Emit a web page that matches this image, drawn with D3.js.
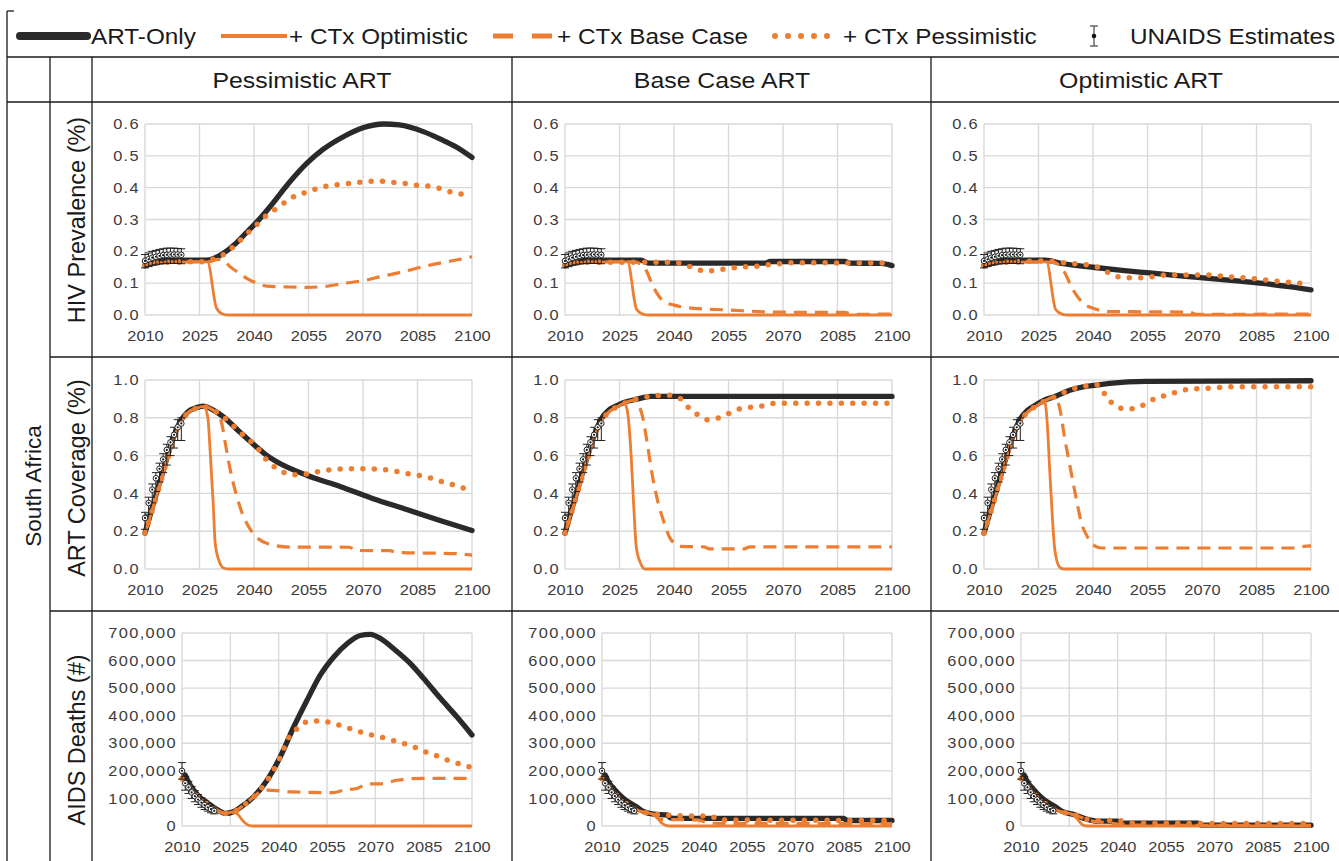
<!DOCTYPE html>
<html><head><meta charset="utf-8">
<script src="https://cdn.jsdelivr.net/npm/d3@7"></script>
<style>body{margin:0;background:#fff}svg{display:block}</style>
</head><body><svg id="chart" width="1339" height="861"></svg>
<script>
// ---------- labels & ticks ----------
const legendLabels = ["ART-Only", "+ CTx Optimistic", "+ CTx Base Case", "+ CTx Pessimistic", "UNAIDS Estimates"];
const columnHeaders = ["Pessimistic ART", "Base Case ART", "Optimistic ART"];
const rowTitles = ["HIV Prevalence (%)", "ART Coverage (%)", "AIDS Deaths (#)"];
const countryLabel = "South Africa";
const xTicks = [2010, 2025, 2040, 2055, 2070, 2085, 2100];
const prevTicks = [0, 0.1, 0.2, 0.3, 0.4, 0.5, 0.6];
const covTicks = [0, 0.2, 0.4, 0.6, 0.8, 1.0];
const deathTicks = [0, 100000, 200000, 300000, 400000, 500000, 600000, 700000];

// ---------- UNAIDS estimates ----------
const unaidsYears = [2010, 2011, 2012, 2013, 2014, 2015, 2016, 2017, 2018, 2019, 2020];
const unaidsPrev = [0.170, 0.175, 0.180, 0.183, 0.186, 0.188, 0.189, 0.190, 0.190, 0.190, 0.189];
const unaidsPrevLow = [0.148, 0.152, 0.156, 0.158, 0.160, 0.161, 0.162, 0.162, 0.162, 0.162, 0.161];
const unaidsPrevHigh = [0.190, 0.195, 0.200, 0.203, 0.206, 0.208, 0.210, 0.210, 0.210, 0.209, 0.208];
const unaidsCov = [0.27, 0.35, 0.42, 0.48, 0.53, 0.58, 0.63, 0.67, 0.71, 0.75, 0.77];
const unaidsCovLow = [0.21, 0.29, 0.35, 0.41, 0.46, 0.51, 0.55, 0.60, 0.64, 0.68, 0.68];
const unaidsCovHigh = [0.30, 0.38, 0.45, 0.51, 0.56, 0.61, 0.66, 0.70, 0.75, 0.79, 0.80];
const unaidsDeaths = [200000, 155000, 140000, 122000, 108000, 96000, 85000, 76000, 68000, 61000, 55000];
const unaidsDeathsLow = [170000, 130000, 118000, 100000, 88000, 78000, 68000, 60000, 54000, 48000, 44000];
const unaidsDeathsHigh = [230000, 180000, 162000, 144000, 128000, 114000, 102000, 92000, 82000, 74000, 66000];

// ---------- HIV prevalence ----------
const prevCtxEarly = [[2010,0.158],[2013,0.163],[2017,0.166]];
const prevPessArt_artOnly = [[2010,0.155],[2012,0.163],[2014,0.169],[2016,0.172],[2027,0.172],[2029,0.178],[2031.6,0.194],[2035,0.225],[2038,0.26],[2041,0.295],[2044.4,0.34],[2050,0.42],[2054.5,0.476],[2059,0.52],[2064.6,0.56],[2070,0.588],[2075.6,0.6],[2080,0.597],[2086.6,0.576],[2091.2,0.553],[2095.8,0.527],[2100,0.495]];
const prevPessArt_ctxOpt = prevCtxEarly.concat([[2027.2,0.167],[2029.7,0.021],[2031.6,0.002],[2033,0],[2100,0]]);
const prevPessArt_ctxBase = prevCtxEarly.concat([[2028,0.168],[2030,0.175],[2031.6,0.172],[2033.4,0.152],[2036,0.131],[2038,0.115],[2040.7,0.1],[2043.5,0.091],[2050,0.088],[2054.5,0.087],[2059,0.089],[2064.6,0.099],[2070,0.108],[2074.7,0.12],[2080,0.133],[2086.6,0.152],[2092,0.165],[2096.7,0.175],[2100,0.183]]);
const prevPessArt_ctxPess = prevCtxEarly.concat([[2027,0.168],[2029,0.177],[2031.6,0.19],[2035,0.222],[2038,0.255],[2040.7,0.283],[2044,0.318],[2047,0.34],[2049.5,0.363],[2052,0.377],[2055,0.387],[2058,0.4],[2061.4,0.407],[2064.6,0.412],[2068,0.415],[2071,0.42],[2075,0.42],[2078,0.417],[2081,0.414],[2084.5,0.408],[2088,0.405],[2091,0.398],[2094,0.387],[2097,0.38],[2100,0.375]]);

const prevBaseArt_artOnly = [[2010,0.155],[2012,0.163],[2014,0.169],[2016,0.172],[2031,0.172],[2033,0.163],[2065,0.163],[2066.5,0.168],[2087,0.168],[2088.5,0.163],[2097,0.162],[2100,0.155]];
const prevBaseArt_ctxOpt = prevCtxEarly.concat([[2027.2,0.167],[2029.7,0.018],[2031.6,0.002],[2033,0],[2100,0]]);
const prevBaseArt_ctxBase = prevCtxEarly.concat([[2029,0.167],[2031.7,0.152],[2034.5,0.084],[2037.2,0.042],[2040,0.031],[2045.5,0.021],[2054.6,0.016],[2068.4,0.009],[2086.7,0.008],[2090,0.002],[2100,0.003]]);
const prevBaseArt_ctxPess = prevCtxEarly.concat([[2030,0.166],[2040,0.165],[2043,0.158],[2046,0.145],[2049,0.137],[2052,0.143],[2055,0.145],[2058,0.151],[2062,0.152],[2065,0.157],[2068,0.16],[2072,0.164],[2100,0.163]]);

const prevOptArt_artOnly = [[2010,0.155],[2012,0.163],[2014,0.169],[2016,0.172],[2027,0.172],[2031.8,0.161],[2040,0.15],[2048,0.14],[2055.6,0.132],[2064,0.123],[2071,0.116],[2079.5,0.107],[2086.8,0.099],[2094,0.089],[2100,0.079]];
const prevOptArt_ctxOpt = prevCtxEarly.concat([[2027.2,0.167],[2029.7,0.018],[2031.6,0.002],[2033,0],[2100,0]]);
const prevOptArt_ctxBase = prevCtxEarly.concat([[2029,0.166],[2031.8,0.141],[2034.5,0.079],[2037.3,0.037],[2040,0.021],[2044.6,0.011],[2066.6,0.009],[2068.4,0.002],[2100,0.003]]);
const prevOptArt_ctxPess = prevCtxEarly.concat([[2027,0.17],[2031.8,0.164],[2040,0.154],[2042,0.148],[2044.6,0.131],[2047.8,0.118],[2051,0.117],[2054.7,0.118],[2058.4,0.124],[2064.8,0.126],[2071,0.126],[2077.5,0.12],[2085,0.113],[2091.4,0.105],[2097.8,0.099],[2100,0.097]]);

// ---------- ART coverage ----------
const covCtxEarly = [[2010,0.19],[2012,0.31],[2014,0.44],[2016,0.57],[2018,0.69],[2020,0.78],[2022,0.83]];
const covPessArt_artOnly = [[2010,0.19],[2012,0.325],[2014,0.455],[2016,0.585],[2018,0.705],[2020,0.79],[2022,0.835],[2024,0.853],[2026,0.862],[2028.8,0.841],[2031.6,0.805],[2036,0.726],[2040.7,0.646],[2043.4,0.602],[2046,0.57],[2054.5,0.496],[2063.7,0.437],[2072.8,0.372],[2082,0.315],[2091.2,0.257],[2100,0.204]];
const covPessArt_ctxOpt = covCtxEarly.concat([[2024,0.85],[2026.3,0.86],[2027.3,0.8],[2028,0.6],[2028.8,0.336],[2029.3,0.142],[2030.2,0.053],[2031.6,0.005],[2033,0],[2100,0]]);
const covPessArt_ctxBase = covCtxEarly.concat([[2024,0.85],[2026,0.86],[2028.8,0.84],[2030,0.82],[2031,0.779],[2032.2,0.655],[2033.4,0.531],[2035.2,0.389],[2037,0.283],[2038.9,0.212],[2040.7,0.168],[2043.5,0.136],[2049.8,0.116],[2066.3,0.115],[2068.1,0.098],[2077.3,0.097],[2079.2,0.088],[2095.8,0.081],[2100,0.073]]);
const covPessArt_ctxPess = covCtxEarly.concat([[2024,0.85],[2026,0.86],[2028.8,0.84],[2031.6,0.805],[2036,0.726],[2040.7,0.646],[2044,0.566],[2046,0.535],[2049,0.506],[2052.5,0.497],[2055.9,0.51],[2058.8,0.518],[2061.8,0.527],[2065.3,0.53],[2068.7,0.53],[2072,0.53],[2075.6,0.527],[2078.8,0.518],[2082,0.505],[2085.2,0.496],[2088.4,0.483],[2091.2,0.465],[2094.4,0.448],[2097.4,0.43],[2100,0.415]]);

const covBaseArt_artOnly = [[2010,0.19],[2012,0.325],[2014,0.455],[2016,0.585],[2018,0.705],[2020,0.795],[2022,0.84],[2024,0.862],[2026.2,0.881],[2029.9,0.899],[2033.6,0.913],[2100,0.913]];
const covBaseArt_ctxOpt = covCtxEarly.concat([[2024,0.855],[2026.4,0.876],[2027.3,0.82],[2028.2,0.6],[2028.9,0.34],[2029.6,0.12],[2030.7,0.035],[2032,0],[2100,0]]);
const covBaseArt_ctxBase = covCtxEarly.concat([[2024,0.855],[2026.2,0.876],[2029,0.893],[2030.2,0.87],[2031.3,0.81],[2032.6,0.67],[2034,0.5],[2035.4,0.37],[2037.2,0.25],[2039,0.16],[2041.8,0.12],[2048.2,0.117],[2050,0.106],[2059,0.106],[2061,0.117],[2100,0.117]]);
const covBaseArt_ctxPess = covCtxEarly.concat([[2024,0.855],[2026.2,0.876],[2029.9,0.9],[2033.6,0.915],[2038,0.92],[2041.8,0.9],[2044.1,0.852],[2046.7,0.814],[2049.3,0.79],[2052.3,0.8],[2055.4,0.825],[2058.3,0.848],[2061.7,0.857],[2064.9,0.865],[2067.9,0.877],[2100,0.877]]);

const covOptArt_artOnly = [[2010,0.19],[2012,0.325],[2014,0.455],[2016,0.585],[2018,0.705],[2020,0.795],[2022,0.84],[2024,0.865],[2026.2,0.89],[2029.9,0.915],[2033.6,0.946],[2037.3,0.964],[2040.9,0.973],[2044.6,0.982],[2054.7,0.993],[2100,0.996]];
const covOptArt_ctxOpt = covCtxEarly.concat([[2024,0.858],[2026.7,0.885],[2027.3,0.8],[2028.1,0.52],[2028.8,0.28],[2029.5,0.1],[2030.8,0.01],[2032,0],[2100,0]]);
const covOptArt_ctxBase = covCtxEarly.concat([[2024,0.858],[2026.2,0.884],[2029.5,0.91],[2030.8,0.854],[2032.2,0.693],[2033.6,0.55],[2035.4,0.371],[2036.8,0.246],[2038.6,0.166],[2040.9,0.118],[2042.7,0.111],[2095,0.111],[2098.7,0.121],[2100,0.122]]);
const covOptArt_ctxPess = covCtxEarly.concat([[2024,0.858],[2026.2,0.884],[2029.9,0.915],[2033.6,0.948],[2037.3,0.966],[2040.9,0.975],[2042,0.965],[2043.7,0.91],[2046.1,0.866],[2049.2,0.845],[2052.3,0.854],[2055,0.88],[2057.6,0.907],[2060.5,0.92],[2063.4,0.939],[2066.6,0.952],[2069.8,0.955],[2073.5,0.957],[2077,0.964],[2100,0.964]]);

// ---------- AIDS deaths ----------
const deathsCtxEarly = [[2010,172000],[2011,158000],[2012,145000],[2013.6,124000],[2015.5,100000],[2017.8,80000],[2020.9,57000]];
const deathsPessArt_artOnly = [[2011,185000],[2012,160000],[2013.6,130000],[2015.5,105000],[2017.8,85000],[2020.9,60000],[2023.4,46000],[2026,52000],[2029.1,76000],[2032.2,106000],[2036.4,166000],[2040.5,251000],[2044.7,360000],[2048.8,456000],[2052.9,547000],[2057.1,613000],[2061.2,661000],[2065.3,691000],[2068.4,695000],[2071.6,680000],[2075.7,643000],[2080.9,589000],[2085,535000],[2090.2,463000],[2095.3,396000],[2100,330000]];
const deathsPessArt_ctxOpt = deathsCtxEarly.concat([[2023.4,45000],[2025.5,50000],[2027.1,44000],[2029.1,16000],[2031,1000],[2032,0],[2100,0]]);
const deathsPessArt_ctxBase = deathsCtxEarly.concat([[2023.4,45000],[2026,51000],[2029.1,75000],[2032.2,105000],[2034.3,124000],[2036.4,130000],[2043.6,124000],[2057,121000],[2060.2,130000],[2064.3,136000],[2067.4,152000],[2072.6,154000],[2076.7,166000],[2085,173000],[2100,173000]]);
const deathsPessArt_ctxPess = deathsCtxEarly.concat([[2023.4,45000],[2026,51000],[2029.1,75000],[2032.2,105000],[2036.4,165000],[2040.5,250000],[2043,318000],[2046.2,357000],[2049.5,381000],[2052.9,381000],[2056.6,374000],[2060.2,360000],[2063.8,347000],[2066.9,335000],[2070.5,326000],[2074.1,315000],[2077.8,302000],[2081.4,290000],[2084.8,272000],[2088.4,257000],[2092,241000],[2095.7,227000],[2100,212000]]);

const deathsBaseArt_artOnly = [[2011,185000],[2012,160000],[2013.6,136000],[2016.7,100000],[2020.9,68000],[2023,52000],[2026,43000],[2030.2,40000],[2031.2,30000],[2032.2,28000],[2085,28000],[2086,20000],[2100,20000]];
const deathsBaseArt_ctxOpt = deathsCtxEarly.concat([[2023,50000],[2026,42000],[2027.5,25000],[2028.6,10000],[2030.7,0],[2100,0]]);
const deathsBaseArt_ctxBase = deathsCtxEarly.concat([[2023,50000],[2026,42000],[2028,24000],[2039.5,22000],[2043.6,10000],[2100,9000]]);
const deathsBaseArt_ctxPess = deathsCtxEarly.concat([[2023,50000],[2026,43000],[2030.2,40000],[2033,37000],[2044,36000],[2046,22000],[2100,20000]]);

const deathsOptArt_artOnly = [[2011,185000],[2012,160000],[2013.6,136000],[2016.7,100000],[2020.9,68000],[2023,52000],[2026,43000],[2031.2,22000],[2033.3,18000],[2040,18000],[2041,10000],[2065,10000],[2066,3000],[2100,3000]];
const deathsOptArt_ctxOpt = deathsCtxEarly.concat([[2023,50000],[2026,42000],[2027.5,25000],[2029,5000],[2030.3,0],[2100,0]]);
const deathsOptArt_ctxBase = deathsCtxEarly.concat([[2023,50000],[2026,42000],[2029,30000],[2031,20000],[2035,14000],[2040,7000],[2045,3000],[2100,2000]]);
const deathsOptArt_ctxPess = deathsCtxEarly.concat([[2023,50000],[2026,43000],[2031.2,23000],[2035,19000],[2040,20000],[2043,15000],[2045,10000],[2100,9000]]);

// ---------- assemble ----------
const rowsData = [
  { ticks: prevTicks, fmt: d3.format(".1f"), domain: [0, 0.6],
    est: [unaidsPrev, unaidsPrevLow, unaidsPrevHigh],
    panels: [
      { art: prevPessArt_artOnly, opt: prevPessArt_ctxOpt, base: prevPessArt_ctxBase, pess: prevPessArt_ctxPess },
      { art: prevBaseArt_artOnly, opt: prevBaseArt_ctxOpt, base: prevBaseArt_ctxBase, pess: prevBaseArt_ctxPess },
      { art: prevOptArt_artOnly, opt: prevOptArt_ctxOpt, base: prevOptArt_ctxBase, pess: prevOptArt_ctxPess }] },
  { ticks: covTicks, fmt: d3.format(".1f"), domain: [0, 1],
    est: [unaidsCov, unaidsCovLow, unaidsCovHigh],
    panels: [
      { art: covPessArt_artOnly, opt: covPessArt_ctxOpt, base: covPessArt_ctxBase, pess: covPessArt_ctxPess },
      { art: covBaseArt_artOnly, opt: covBaseArt_ctxOpt, base: covBaseArt_ctxBase, pess: covBaseArt_ctxPess },
      { art: covOptArt_artOnly, opt: covOptArt_ctxOpt, base: covOptArt_ctxBase, pess: covOptArt_ctxPess }] },
  { ticks: deathTicks, fmt: d3.format(","), domain: [0, 700000],
    est: [unaidsDeaths, unaidsDeathsLow, unaidsDeathsHigh],
    panels: [
      { art: deathsPessArt_artOnly, opt: deathsPessArt_ctxOpt, base: deathsPessArt_ctxBase, pess: deathsPessArt_ctxPess },
      { art: deathsBaseArt_artOnly, opt: deathsBaseArt_ctxOpt, base: deathsBaseArt_ctxBase, pess: deathsBaseArt_ctxPess },
      { art: deathsOptArt_artOnly, opt: deathsOptArt_ctxOpt, base: deathsOptArt_ctxBase, pess: deathsOptArt_ctxPess }] }
];

// ---------- drawing ----------
const FONT = '"Liberation Sans", Arial, Helvetica, sans-serif';
const SX = 1.13; // horizontal text stretch
const ORANGE = "#ED7D31", DARK = "#2a2a2a", GRID = "#d9d9d9", LINE = "#1a1a1a", TXT = "#1a1a1a", TICK = "#3c3c3c";
const svg = d3.select("#chart").style("font-family", FONT);
svg.append("rect").attr("width", 1339).attr("height", 861).attr("fill", "#fff");

function hText(x, y, str, size, anchor) {
  return svg.append("text").attr("transform", `translate(${x},${y}) scale(${SX},1)`)
    .attr("text-anchor", anchor).attr("font-size", size).attr("fill", TXT).text(str);
}

// table lines
const tbl = svg.append("g").attr("stroke", LINE).attr("stroke-width", 1.3);
[[7, 11, 14, 11], [7, 57, 1339, 57], [7, 102, 1339, 102], [50, 357, 1339, 357], [50, 611, 1339, 611],
 [7, 11, 7, 861], [50, 57, 50, 861], [92, 57, 92, 861], [512, 57, 512, 861], [931, 57, 931, 861]]
  .forEach(l => tbl.append("line").attr("x1", l[0]).attr("y1", l[1]).attr("x2", l[2]).attr("y2", l[3]));

// legend
const LY = 36;
const lg = svg.append("g");
lg.append("line").attr("x1", 20).attr("x2", 87).attr("y1", LY).attr("y2", LY).attr("stroke", DARK).attr("stroke-width", 8).attr("stroke-linecap", "round");
lg.append("line").attr("x1", 221).attr("x2", 287).attr("y1", LY).attr("y2", LY).attr("stroke", ORANGE).attr("stroke-width", 4);
lg.append("line").attr("x1", 493).attr("x2", 552).attr("y1", LY).attr("y2", LY).attr("stroke", ORANGE).attr("stroke-width", 5).attr("stroke-dasharray", "20,19");
lg.append("line").attr("x1", 775).attr("x2", 840).attr("y1", LY).attr("y2", LY).attr("stroke", ORANGE).attr("stroke-width", 6).attr("stroke-linecap", "round").attr("stroke-dasharray", "0,13");
lg.append("line").attr("x1", 1094).attr("x2", 1094).attr("y1", 26).attr("y2", 46).attr("stroke", "#222").attr("stroke-width", 1);
lg.append("line").attr("x1", 1090).attr("x2", 1098).attr("y1", 26).attr("y2", 26).attr("stroke", "#222").attr("stroke-width", 1);
lg.append("line").attr("x1", 1090).attr("x2", 1098).attr("y1", 46).attr("y2", 46).attr("stroke", "#222").attr("stroke-width", 1);
lg.append("circle").attr("cx", 1094).attr("cy", LY).attr("r", 2.3).attr("fill", "#111");
const legendX = [91, 289, 557, 843, 1130];
legendLabels.forEach((t, i) => hText(legendX[i], LY + 8, t, 21.5, "start"));

// column headers
const colLeft = [92, 512, 931];
columnHeaders.forEach((t, i) => hText(colLeft[i] + 210, 88, t, 22, "middle"));

// row titles
const titleCY = [220, 478, 740];
rowTitles.forEach((t, i) => svg.append("text")
  .attr("transform", `translate(77,${titleCY[i]}) rotate(-90)`)
  .attr("text-anchor", "middle").attr("dominant-baseline", "central")
  .attr("font-size", 23.5).attr("fill", TXT).text(t));
svg.append("text").attr("transform", `translate(33,486) rotate(-90)`)
  .attr("text-anchor", "middle").attr("dominant-baseline", "central")
  .attr("font-size", 22.5).attr("fill", TXT).text(countryLabel);

// panels
const plotTop = [124, 380, 633], plotBottom = [315, 569, 826];
const plotLeftOff = [53, 53, 90], plotRightOff = 380;

rowsData.forEach((row, ri) => {
  row.panels.forEach((p, ci) => {
    const L = colLeft[ci] + plotLeftOff[ri], R = colLeft[ci] + plotRightOff;
    const x = d3.scaleLinear().domain([2010, 2100]).range([L, R]);
    const y = d3.scaleLinear().domain(row.domain).range([plotBottom[ri], plotTop[ri]]);
    const g = svg.append("g");

    // grid
    g.selectAll(".vg").data(xTicks).join("line").attr("class", "vg")
      .attr("x1", d => x(d)).attr("x2", d => x(d)).attr("y1", y.range()[1]).attr("y2", y.range()[0])
      .attr("stroke", GRID).attr("stroke-width", 1.4);
    g.selectAll(".hg").data(row.ticks).join("line").attr("class", "hg")
      .attr("x1", L).attr("x2", R).attr("y1", d => y(d)).attr("y2", d => y(d))
      .attr("stroke", GRID).attr("stroke-width", 1.4);

    // axes
    const xa = g.append("g").attr("transform", `translate(0,${plotBottom[ri]})`)
      .call(d3.axisBottom(x).tickValues(xTicks).tickSize(0).tickPadding(16).tickFormat(d3.format("d")));
    const ya = g.append("g").attr("transform", `translate(${L},0)`)
      .call(d3.axisLeft(y).tickValues(row.ticks).tickSize(0).tickPadding(6).tickFormat(row.fmt));
    [xa, ya].forEach(a => {
      a.attr("font-family", FONT).attr("font-size", 14.5);
      a.select(".domain").remove();
      a.selectAll(".tick text").attr("fill", TICK).attr("transform", `scale(${SX},1)`);
    });
    ya.selectAll(".tick text").attr("x", -5 / SX).attr("letter-spacing", 1.2);

    // series
    const line = d3.line().x(d => x(d[0])).y(d => y(d[1])).curve(d3.curveMonotoneX);
    g.append("path").datum(p.art).attr("d", line).attr("fill", "none").attr("stroke", DARK)
      .attr("stroke-width", 5.3).attr("stroke-linejoin", "round").attr("stroke-linecap", "round");
    g.append("path").datum(p.opt).attr("d", line).attr("fill", "none").attr("stroke", ORANGE)
      .attr("stroke-width", 2.8).attr("stroke-linejoin", "round");
    g.append("path").datum(p.base).attr("d", line).attr("fill", "none").attr("stroke", ORANGE)
      .attr("stroke-width", 3.2).attr("stroke-dasharray", "13,8");
    g.append("path").datum(p.pess).attr("d", line).attr("fill", "none").attr("stroke", ORANGE)
      .attr("stroke-width", 5.5).attr("stroke-linecap", "round").attr("stroke-dasharray", "0,11.4");

    // UNAIDS estimates
    const [val, lo, hi] = row.est;
    const eg = g.append("g").attr("stroke", "#222").attr("stroke-width", 1);
    unaidsYears.forEach((yr, i) => {
      const cx = x(yr);
      eg.append("line").attr("x1", cx).attr("x2", cx).attr("y1", y(lo[i])).attr("y2", y(hi[i]));
      eg.append("line").attr("x1", cx - 4).attr("x2", cx + 4).attr("y1", y(lo[i])).attr("y2", y(lo[i]));
      eg.append("line").attr("x1", cx - 4).attr("x2", cx + 4).attr("y1", y(hi[i])).attr("y2", y(hi[i]));
    });
    unaidsYears.forEach((yr, i) => {
      eg.append("circle").attr("cx", x(yr)).attr("cy", y(val[i])).attr("r", 2.8)
        .attr("fill", "#fff").attr("stroke", "#222").attr("stroke-width", 1);
      eg.append("circle").attr("cx", x(yr)).attr("cy", y(val[i])).attr("r", 1.1)
        .attr("fill", "#111").attr("stroke", "none");
    });
  });
});
</script></body></html>
